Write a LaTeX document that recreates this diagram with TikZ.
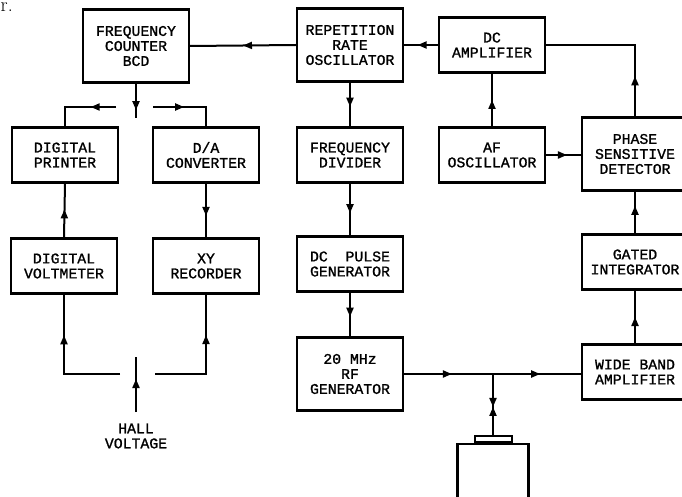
\documentclass[tikz,border=0pt]{standalone}
\usepackage{fontspec}
\newfontfamily\boxfont[FakeBold=1.2]{Liberation Mono}
\usetikzlibrary{arrows.meta,decorations.markings}

\tikzset{
  box/.style={draw, line width=2.4pt, align=center, inner sep=0pt,
    minimum width=106pt, minimum height=55pt,
    font=\boxfont\fontsize{14.8}{15}\selectfont},
  tallbox/.style={box, minimum height=73pt},
  conn/.style={line width=2pt},
  arr/.style={postaction={decorate, decoration={markings,
    mark=at position #1 with {\arrow{Triangle[length=9pt,width=7pt]}}}}},
  rarr/.style={postaction={decorate, decoration={markings,
    mark=at position #1 with {\arrowreversed{Triangle[length=9pt,width=7pt]}}}}}
}

\begin{document}
\begin{tikzpicture}[x=1pt, y=-1pt]
  \useasboundingbox (0,0) rectangle (682,497);
  % Fragment of the page text above the figure
  \node[font=\fontsize{20}{20}\selectfont, anchor=base west, inner sep=0pt] (frag) at (0.5,11.5) {r.};
  % Recording side: counter, printer, converter, voltmeter, recorder
  \node[tallbox] (counter) at (136,46) {FREQUENCY\\COUNTER\\BCD};
  \node[box] (printer) at (65,155) {DIGITAL\\PRINTER};
  \node[box] (dac) at (206,155) {D/A\\CONVERTER};
  \node[box] (dvm) at (64,266) {DIGITAL\\VOLTMETER};
  \node[box] (xyrec) at (206,266) {XY\\RECORDER};
  \node[font=\boxfont\fontsize{14.8}{15}\selectfont, align=center, inner sep=0pt] (hall) at (136,436) {HALL\\VOLTAGE};
  % Pulse chain down the middle
  \node[tallbox] (rep) at (350,45) {REPETITION\\RATE\\OSCILLATOR};
  \node[box] (divider) at (350,155) {FREQUENCY\\DIVIDER};
  \node[box] (pulse) at (350,264) {DC\ \ PULSE\\GENERATOR};
  \node[tallbox] (rf) at (350,374) {20 MHz\\RF\\GENERATOR};
  % Detection loop on the right, boxes run past the page edge
  \node[box] (dcamp) at (492,45) {DC\\AMPLIFIER};
  \node[box] (afosc) at (492,155) {AF\\OSCILLATOR};
  \node[tallbox] (psd) at (635,154) {PHASE\\SENSITIVE\\DETECTOR};
  \node[box] (gated) at (635,262) {GATED\\INTEGRATOR};
  \node[box] (wideband) at (635,372) {WIDE BAND\\AMPLIFIER};
  % Sample holder with its lid
  \node[draw, line width=2.4pt, minimum width=71pt, minimum height=70pt, anchor=north] (probe) at (493,443) {};
  \node[draw, line width=2pt, minimum width=37pt, minimum height=6pt, inner sep=0pt, anchor=south] (tab) at (probe.north) {};
  % Free ends of the split lines
  \coordinate (split) at (136,118);
  \coordinate (splitL) at (116,107);
  \coordinate (splitR) at (153,107);
  \coordinate (hallL) at (120,374);
  \coordinate (hallR) at (155,374);
  \coordinate (hallbot) at (136,412);
  \coordinate (halltop) at (136,357);
  \coordinate (tee) at (tab.north |- rf.east);
  % Connectors, left half
  \draw[conn, arr=0.5] (rep.west) -- (counter.east);
  \draw[conn, arr=0.77] (counter.south) -- (split);
  \draw[conn, arr=0.36] (splitL) -| (printer.north);
  \draw[conn, arr=0.43] (splitR) -| (dac.north);
  \draw[conn, arr=0.6] (dac.south) -- (xyrec.north);
  \draw[conn, arr=0.52] (dvm.north) -- (printer.south);
  \draw[conn, arr=0.7] (hallL) -| (dvm.south);
  \draw[conn, arr=0.69] (hallR) -| (xyrec.south);
  \draw[conn, arr=0.6] (hallbot) -- (halltop);
  % Connectors, middle and right
  \draw[conn, arr=0.55] (rep.south) -- (divider.north);
  \draw[conn, arr=0.57] (divider.south) -- (pulse.north);
  \draw[conn, arr=0.55] (pulse.south) -- (rf.north);
  \draw[conn, arr=0.6] (dcamp.west) -- (rep.east);
  \draw[conn, arr=0.5] (afosc.north) -- (dcamp.south);
  \draw[conn, arr=0.6] (afosc.east) -- (afosc.east -| psd.west);
  \draw[conn, arr=0.25] (psd.north) |- (dcamp.east);
  \draw[conn, arr=0.66] (gated.north) -- (psd.south);
  \draw[conn, arr=0.5] (wideband.north) -- (gated.south);
  \draw[conn, arr=0.27, arr=0.77] (rf.east) -- (rf.east -| wideband.west);
  \draw[conn, arr=0.54, rarr=0.54] (tee) -- (tab.north);
\end{tikzpicture}
\end{document}
